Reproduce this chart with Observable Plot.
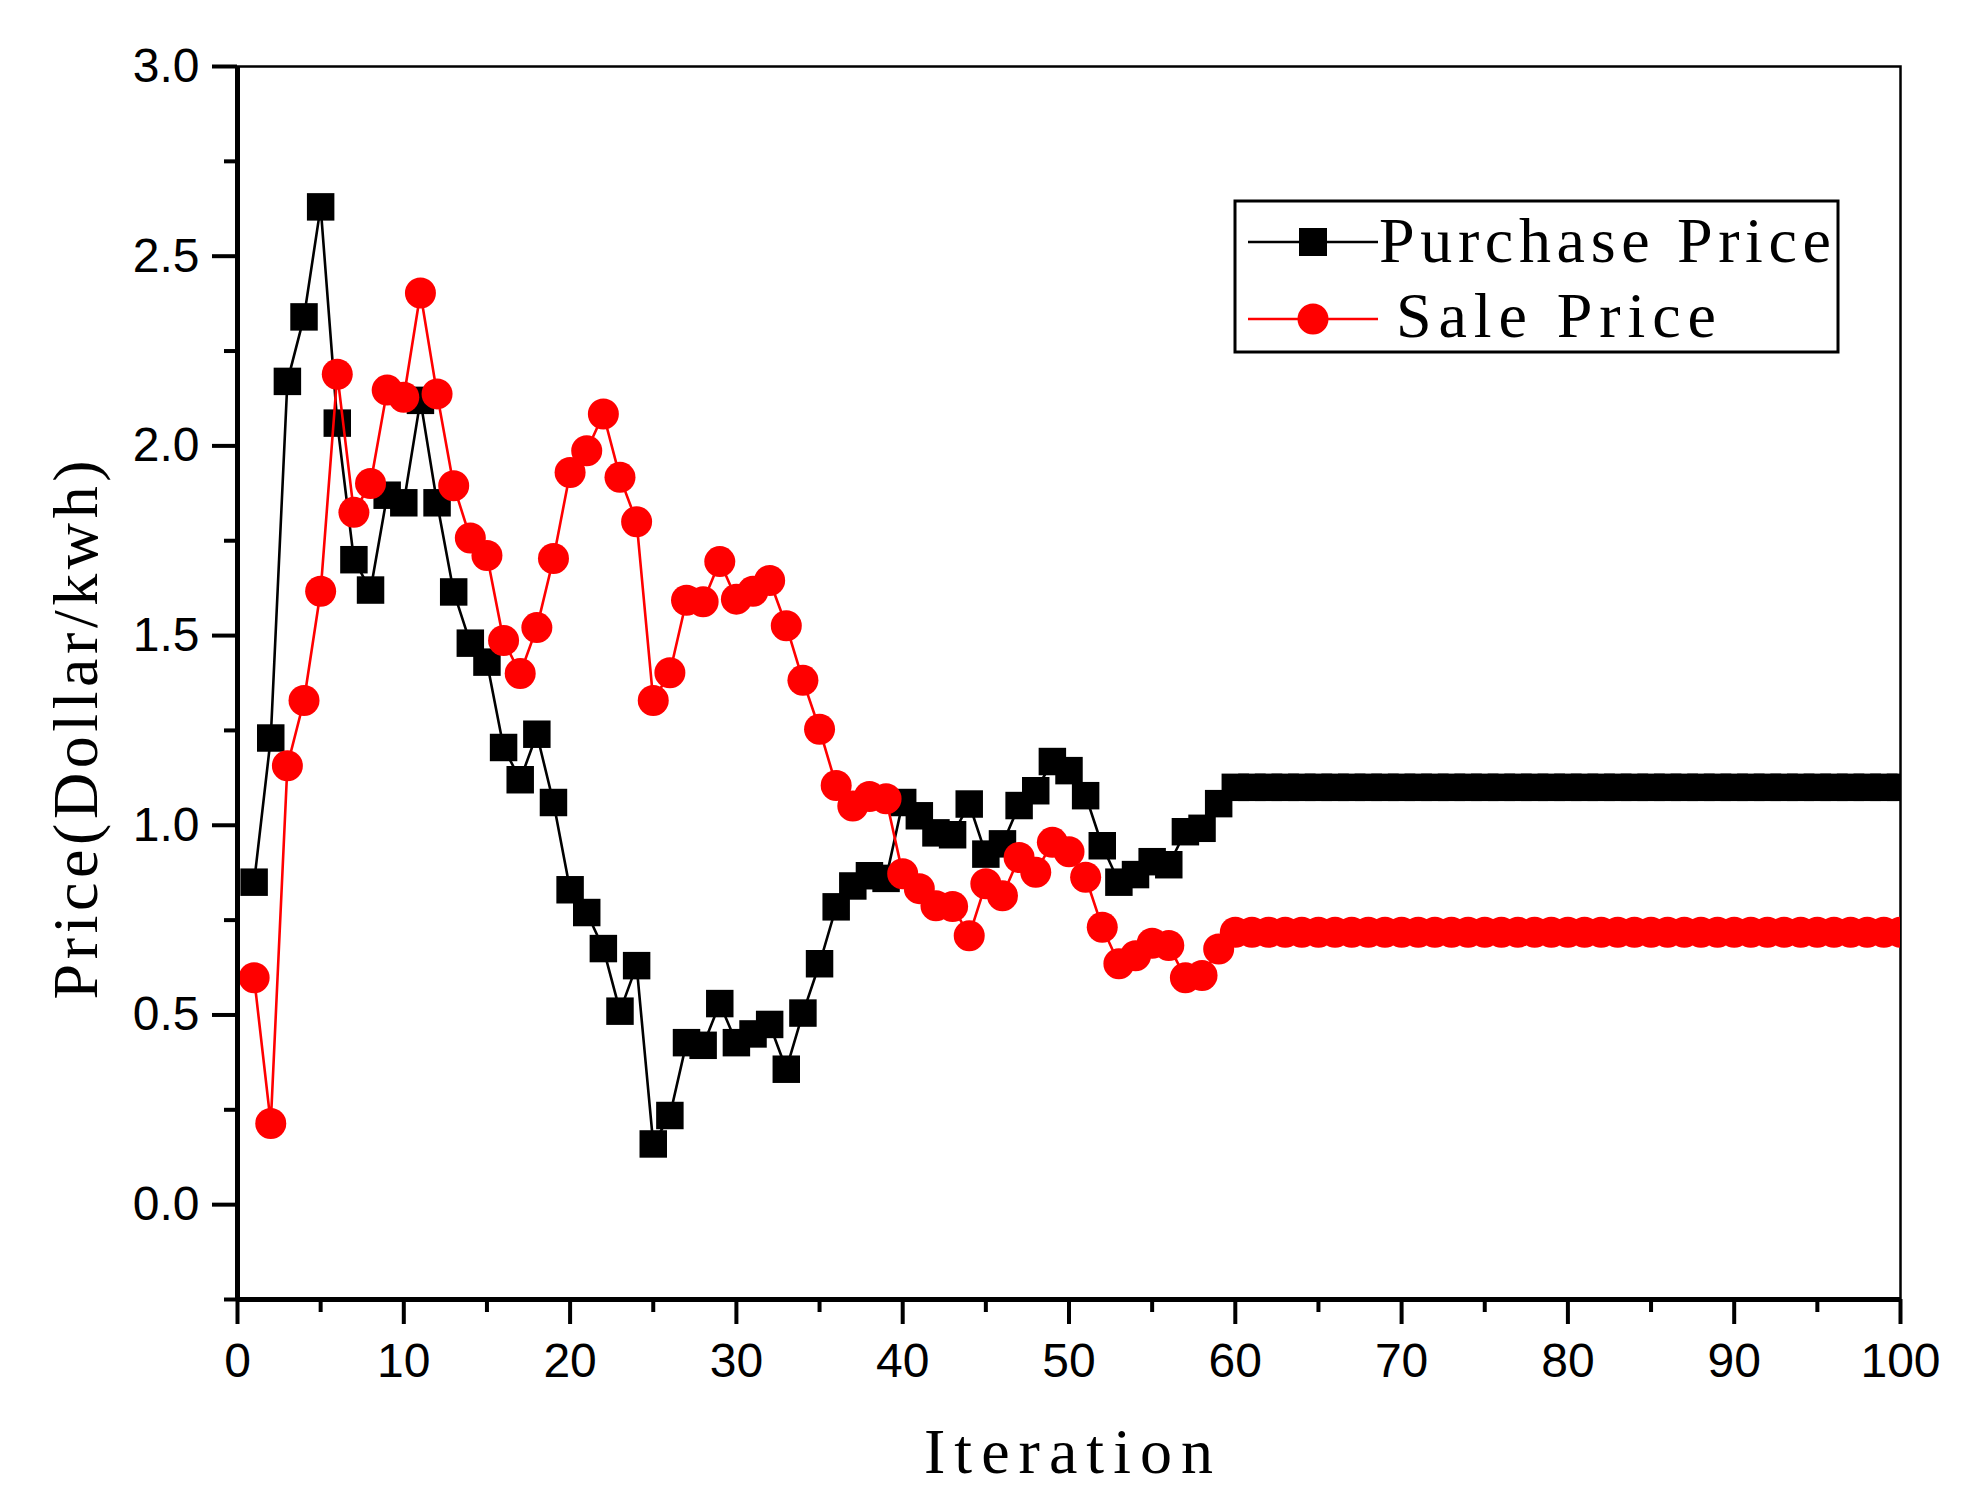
<!DOCTYPE html>
<html>
<head>
<meta charset="utf-8">
<script src="https://cdn.jsdelivr.net/npm/d3@7"></script>
<script src="https://cdn.jsdelivr.net/npm/@observablehq/plot@0.6"></script>
<style>
  html, body { margin: 0; padding: 0; background: #fff; }
  #chart svg { display: block; }
</style>
</head>
<body>
<div id="chart"></div>
<script>
// ---- data ----
const iterations = [
  1,2,3,4,5,6,7,8,9,10,11,12,13,14,15,16,17,18,19,20,
  21,22,23,24,25,26,27,28,29,30,31,32,33,34,35,36,37,38,39,40,
  41,42,43,44,45,46,47,48,49,50,51,52,53,54,55,56,57,58,59,60,
  61,62,63,64,65,66,67,68,69,70,71,72,73,74,75,76,77,78,79,80,
  81,82,83,84,85,86,87,88,89,90,91,92,93,94,95,96,97,98,99,100
];
const purchasePrice = [
  0.85,1.23,2.17,2.34,2.63,2.06,1.70,1.62,1.87,1.85,
  2.12,1.85,1.615,1.48,1.43,1.205,1.12,1.24,1.06,0.83,
  0.77,0.675,0.51,0.63,0.16,0.235,0.427,0.42,0.53,0.427,
  0.45,0.475,0.357,0.505,0.635,0.785,0.84,0.867,0.86,1.06,
  1.025,0.98,0.975,1.056,0.924,0.951,1.052,1.091,1.168,1.144,
  1.078,0.946,0.85,0.87,0.904,0.896,0.983,0.992,1.057,1.10,
  1.10,1.10,1.10,1.10,1.10,1.10,1.10,1.10,1.10,1.10,
  1.10,1.10,1.10,1.10,1.10,1.10,1.10,1.10,1.10,1.10,
  1.10,1.10,1.10,1.10,1.10,1.10,1.10,1.10,1.10,1.10,
  1.10,1.10,1.10,1.10,1.10,1.10,1.10,1.10,1.10,1.10
];
const salePrice = [
  0.598,0.214,1.157,1.329,1.617,2.189,1.825,1.901,2.147,2.128,
  2.403,2.137,1.895,1.757,1.711,1.487,1.40,1.521,1.703,1.93,
  1.987,2.084,1.917,1.80,1.329,1.402,1.593,1.589,1.695,1.596,
  1.617,1.645,1.526,1.382,1.253,1.105,1.051,1.076,1.07,0.872,
  0.833,0.788,0.786,0.709,0.846,0.814,0.915,0.876,0.955,0.93,
  0.863,0.731,0.635,0.656,0.689,0.683,0.598,0.604,0.674,0.718,
  0.718,0.718,0.718,0.718,0.718,0.718,0.718,0.718,0.718,0.718,
  0.718,0.718,0.718,0.718,0.718,0.718,0.718,0.718,0.718,0.718,
  0.718,0.718,0.718,0.718,0.718,0.718,0.718,0.718,0.718,0.718,
  0.718,0.718,0.718,0.718,0.718,0.718,0.718,0.718,0.718,0.718
];
const seriesNames = ["Purchase Price", "Sale Price"];
const xTicks = [0,10,20,30,40,50,60,70,80,90,100];
const xMinorTicks = [5,15,25,35,45,55,65,75,85,95];
const yTicks = [0.0,0.5,1.0,1.5,2.0,2.5,3.0];
const yMinorTicks = [-0.25,0.25,0.75,1.25,1.75,2.25,2.75];
const xTitle = "Iteration";
const yTitle = "Price(Dollar/kwh)";

// ---- build rows ----
const purchaseRows = iterations.map((it, i) => ({iteration: it, price: purchasePrice[i]}));
const saleRows = iterations.map((it, i) => ({iteration: it, price: salePrice[i]}));

const W = 1968, H = 1506;
const sansFont = "'Liberation Sans', Arial, sans-serif";
const serifFont = "'Liberation Serif', 'Times New Roman', serif";
const RED = "#ff0000";

const plot = Plot.plot({
  width: W,
  height: H,
  marginLeft: 237,
  marginRight: 68,
  marginTop: 66,
  marginBottom: 207,
  style: {fontFamily: sansFont, fontSize: "48px", color: "black", background: "white"},
  x: {domain: [0, 100]},
  y: {domain: [-0.25, 3]},
  marks: [
    Plot.frame({stroke: "black", strokeWidth: 2.5}),
    Plot.line(purchaseRows, {x: "iteration", y: "price", stroke: "black", strokeWidth: 2.6, clip: true}),
    Plot.dot(purchaseRows, {x: "iteration", y: "price", symbol: "square", r: 15.5, fill: "black", stroke: "none", clip: true}),
    Plot.line(saleRows, {x: "iteration", y: "price", stroke: RED, strokeWidth: 2.6, clip: true}),
    Plot.dot(saleRows, {x: "iteration", y: "price", symbol: "circle", r: 15.5, fill: RED, stroke: "none", clip: true}),
    Plot.ruleX([0], {stroke: "black", strokeWidth: 5}),
    Plot.ruleY([-0.25], {stroke: "black", strokeWidth: 5}),
    Plot.axisX(xTicks, {anchor: "bottom", tickSize: 25, tickPadding: 18, strokeWidth: 4,
      tickFormat: d => String(d), label: null, fontSize: 48, fontFamily: sansFont}),
    Plot.axisX(xMinorTicks, {anchor: "bottom", tickSize: 13, strokeWidth: 4,
      tickFormat: () => "", label: null}),
    Plot.axisY(yTicks, {anchor: "left", tickSize: 25, tickPadding: 13, strokeWidth: 4,
      tickFormat: d3.format(".1f"), label: null, fontSize: 48, fontFamily: sansFont}),
    Plot.axisY(yMinorTicks, {anchor: "left", tickSize: 13, strokeWidth: 4,
      tickFormat: () => "", label: null})
  ]
});

document.getElementById("chart").appendChild(plot);

// ---- axis titles and legend ----
const svg = d3.select(plot);
const xs = plot.scale("x"), ys = plot.scale("y");

svg.append("text")
  .attr("x", xs.apply(50)).attr("y", 1473)
  .attr("text-anchor", "middle")
  .attr("font-family", serifFont).attr("font-size", 64)
  .attr("textLength", 289).attr("lengthAdjust", "spacing")
  .attr("fill", "black")
  .text(xTitle);

const yc = ys.apply(1.25);
svg.append("text")
  .attr("transform", `translate(97,${yc}) rotate(-90)`)
  .attr("x", 0).attr("y", 0)
  .attr("text-anchor", "middle")
  .attr("font-family", serifFont).attr("font-size", 64)
  .attr("textLength", 539).attr("lengthAdjust", "spacing")
  .attr("fill", "black")
  .text(yTitle);

const lg = svg.append("g");
lg.append("rect")
  .attr("x", 1235).attr("y", 201).attr("width", 603).attr("height", 151)
  .attr("fill", "white").attr("stroke", "black").attr("stroke-width", 3);

const rows = [
  {name: seriesNames[0], color: "black", sym: "square", cy: 242, base: 262, tx: 1379, len: 452},
  {name: seriesNames[1], color: RED, sym: "circle", cy: 319, base: 337, tx: 1396, len: 320}
];
rows.forEach(r => {
  lg.append("line")
    .attr("x1", 1248).attr("x2", 1378).attr("y1", r.cy).attr("y2", r.cy)
    .attr("stroke", r.color).attr("stroke-width", 2.6);
  if (r.sym === "square") {
    lg.append("rect").attr("x", 1313 - 14).attr("y", r.cy - 14)
      .attr("width", 28).attr("height", 28).attr("fill", r.color);
  } else {
    lg.append("circle").attr("cx", 1313).attr("cy", r.cy).attr("r", 15.5).attr("fill", r.color);
  }
  lg.append("text")
    .attr("x", r.tx).attr("y", r.base)
    .attr("text-anchor", "start")
    .attr("font-family", serifFont).attr("font-size", 64)
    .attr("textLength", r.len).attr("lengthAdjust", "spacing")
    .attr("fill", "black")
    .text(r.name);
});
</script>
</body>
</html>
